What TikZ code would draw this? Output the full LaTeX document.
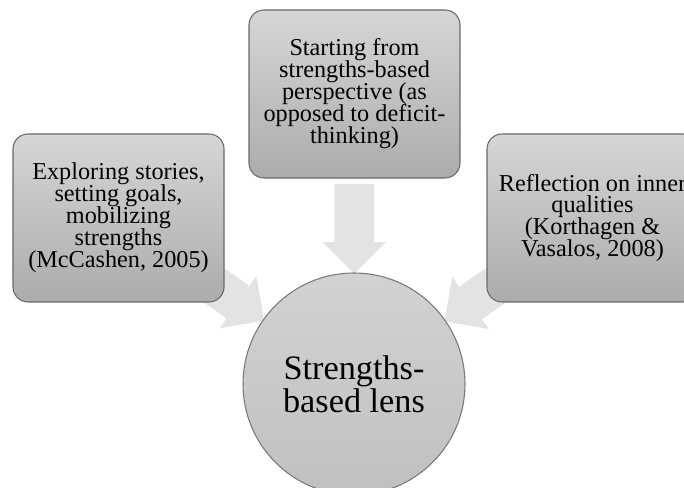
\documentclass[tikz,border=0pt]{standalone}
\usepackage{fontspec}
\setmainfont{Liberation Serif}
\usetikzlibrary{shapes.arrows,calc,backgrounds}

\definecolor{boxtop}{RGB}{214,214,214}
\definecolor{boxbot}{RGB}{172,172,172}
\definecolor{boxedge}{RGB}{105,105,105}
\definecolor{lenstop}{RGB}{210,210,210}
\definecolor{lensbot}{RGB}{192,192,192}
\definecolor{lensedge}{RGB}{120,120,120}
\definecolor{arrowfill}{RGB}{227,227,227}

\newcommand{\tightlines}{\lineskiplimit=-20pt\relax}

\tikzset{
	idea/.style={rectangle, rounded corners=0.3cm, draw=boxedge, line width=0.6pt,
		top color=boxtop, bottom color=boxbot, minimum width=4.22cm, minimum height=3.36cm,
		align=center, font=\fontsize{13.8}{12.5}\selectfont\tightlines},
	lens/.style={circle, draw=lensedge, line width=0.6pt, top color=lenstop, bottom color=lensbot,
		minimum size=4.44cm, align=center, font=\fontsize{19.5}{18.8}\selectfont\tightlines},
	blockarrow/.style={single arrow, fill=arrowfill, draw=none, inner xsep=0pt,
		inner ysep=0.39cm, single arrow head extend=0.24cm, single arrow head indent=0pt,
		minimum height=1.8cm}
}

\begin{document}
\begin{tikzpicture}
	\useasboundingbox (0,0) rectangle (13.68,9.76);

	% Centre circle
	\node[lens] (lens) at (7.08,2.08) {Strengths-\\based lens};

	% Three boxes
	\node[idea] (top) at (7.09,7.88) {Starting from\\strengths-based\\perspective (as\\opposed to deficit-\\thinking)};
	\node[idea] (left) at (2.37,5.40) {Exploring stories,\\setting goals,\\mobilizing\\strengths\\(McCashen, 2005)};
	\node[idea] (right) at (11.85,5.40) {Reflection on inner\\qualities\\(Korthagen \&\\Vasalos, 2008)};

	% Block arrows behind the boxes
	\begin{pgfonlayer}{background}
		\node[blockarrow, rotate=-90] (arrtop) at ($(lens.center)!3.3cm!(top.center)$) {};
		\node[blockarrow, rotate=-35] (arrleft) at ($(lens.center)!3.3cm!(left.center)$) {};
		\node[blockarrow, rotate=-145] (arrright) at ($(lens.center)!3.3cm!(right.center)$) {};
	\end{pgfonlayer}
\end{tikzpicture}
\end{document}
